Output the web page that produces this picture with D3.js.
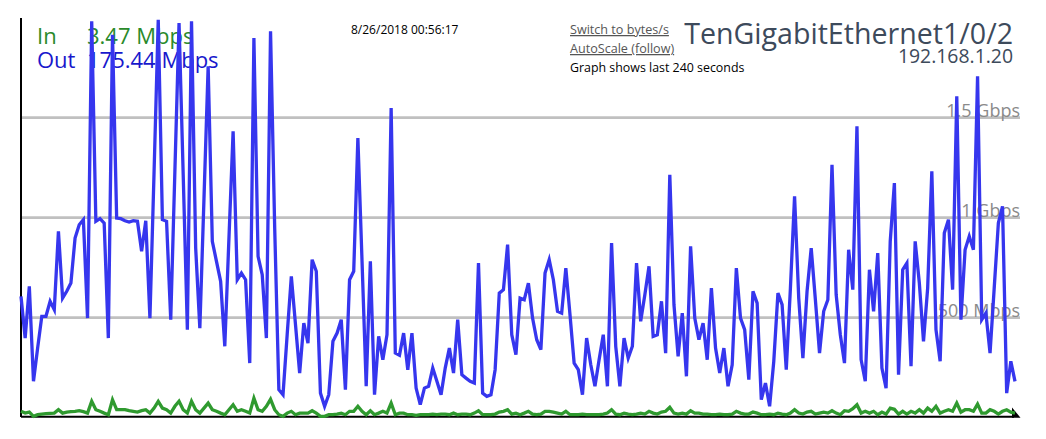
<!DOCTYPE html>
<html>
<head>
<meta charset="utf-8">
<script src="https://cdn.jsdelivr.net/npm/d3@7/dist/d3.min.js"></script>
<style>
  html, body { margin: 0; padding: 0; background: #fff; }
  svg { display: block; }
  text { font-family: "Open Sans", sans-serif; }
</style>
</head>
<body>
<svg id="chart" width="1046" height="439"></svg>
<script>
// ---- data (Mbps), one sample per second, last 240 seconds ----
const outMbps = [
  607,398,657,182,348,507,507,582,540,932,598,632,673,898,965,990,498,1982,982,995,
  973,398,1915,998,995,985,978,985,982,832,985,
  498,1232,1990,990,982,490,1232,1973,1215,440,1982,848,448,1098,1757,882,782,682,357,
  898,1432,690,723,690,273,1898,807,715,398,1932,
  948,140,115,415,707,465,223,473,373,790,732,123,57,115,382,423,490,140,690,732,
  1398,782,157,782,115,407,290,415,1548,323,
  312,423,240,423,148,65,148,157,248,182,115,248,348,223,490,215,198,182,173,773,
  123,107,115,240,623,640,865,415,315,598,
  590,673,498,390,340,723,790,690,532,523,748,515,273,240,115,398,265,157,290,415,
  157,873,357,157,398,298,357,773,482,615,
  757,407,415,582,323,1215,565,307,523,207,857,498,390,473,290,648,348,223,348,157,
  265,748,498,440,190,632,573,90,173,57,
  282,623,565,240,648,1107,598,298,632,848,590,323,532,590,1265,615,415,273,840,640,
  1457,290,182,740,532,823,248,148,882,1173,
  215,740,773,257,882,673,382,648,1232,440,282,923,990,640,1607,490,840,907,840,1707,
  490,523,323,648,973,1057,123,282,182
];
const inMbps = [
  32,23,28,7,15,18,20,22,23,40,23,28,30,32,35,30,23,82,40,32,
  23,15,90,40,40,40,35,32,28,35,40,
  23,48,82,48,40,23,57,82,40,23,82,40,23,48,73,40,32,23,15,40,
  65,32,40,32,23,98,40,32,57,92,
  40,15,7,23,32,15,23,23,23,35,23,7,7,15,15,18,23,15,32,32,
  57,32,15,35,15,23,32,23,73,15,
  23,23,15,15,12,15,15,15,18,15,18,18,15,23,15,18,18,15,23,35,
  15,15,15,18,28,32,40,18,23,15,
  23,32,18,15,18,32,32,28,23,18,32,15,15,15,18,15,15,15,15,18,
  23,40,18,15,23,18,15,18,23,18,
  32,23,18,28,32,52,23,18,23,18,35,23,23,18,18,15,15,18,15,15,
  18,32,23,18,18,28,23,15,15,18,
  15,23,18,15,23,40,23,18,28,32,18,23,28,23,35,23,15,35,32,45,
  65,23,32,23,32,15,28,18,48,42,
  18,32,18,32,23,40,23,48,32,57,23,32,40,32,73,28,40,40,32,68,
  23,23,40,32,18,32,40,28,23
];
const gridValues = [500, 1000, 1500];
const gridLabels = ["500 Mbps", "1 Gbps", "1.5 Gbps"];
const interfaceName = "TenGigabitEthernet1/0/2";
const hostAddress = "192.168.1.20";
const timestamp = "8/26/2018 00:56:17";
const currentIn = "3.47 Mbps";
const currentOut = "175.44 Mbps";

// ---- layout ----
const svg = d3.select("#chart");
const padLeft = 21, padRight = 1015, gridRight = 1020, padTop = 17.7, padBottom = 417.7;

const x = d3.scaleLinear().domain([0, outMbps.length - 1]).range([padLeft, padRight]);
const y = d3.scaleLinear().domain([0, 2000]).range([padBottom, padTop]);

// grid lines
svg.append("g").selectAll("line").data(gridValues).join("line")
  .attr("x1", padLeft).attr("x2", gridRight)
  .attr("y1", d => y(d)).attr("y2", d => y(d))
  .attr("stroke", "#c0c0c0").attr("stroke-width", 2.8);

// grid labels
svg.append("g").selectAll("text").data(gridValues).join("text")
  .attr("x", gridRight).attr("y", d => y(d) - 0.5)
  .attr("text-anchor", "end")
  .attr("font-size", 18)
  .attr("fill", "#8a8a8a")
  .text((d, i) => gridLabels[i]);

// header texts
svg.append("text").attr("x", 37).attr("y", 44).attr("font-size", 22)
  .attr("fill", "#2a8a2a").text("In");
svg.append("text").attr("x", 87).attr("y", 44).attr("font-size", 22)
  .attr("fill", "#2a8a2a").text(currentIn);
svg.append("text").attr("x", 37).attr("y", 68).attr("font-size", 22)
  .attr("fill", "#1818cc").text("Out");
svg.append("text").attr("x", 87).attr("y", 68).attr("font-size", 22)
  .attr("fill", "#1818cc").text(currentOut);

svg.append("text").attr("x", 351).attr("y", 34).attr("font-size", 12)
  .attr("fill", "#000").text(timestamp);

svg.append("text").attr("x", 570).attr("y", 34).attr("font-size", 12.6)
  .attr("fill", "#555").attr("text-decoration", "underline").text("Switch to bytes/s");
svg.append("text").attr("x", 570).attr("y", 53).attr("font-size", 12.6)
  .attr("fill", "#555").attr("text-decoration", "underline").text("AutoScale (follow)");
svg.append("text").attr("x", 570).attr("y", 72).attr("font-size", 12.4)
  .attr("fill", "#000").text("Graph shows last 240 seconds");

svg.append("text").attr("x", 1013).attr("y", 44).attr("font-size", 28.6)
  .attr("text-anchor", "end").attr("fill", "#3d4a5b").text(interfaceName);
svg.append("text").attr("x", 1013).attr("y", 63).attr("font-size", 19.4)
  .attr("text-anchor", "end").attr("fill", "#3d4a5b").text(hostAddress);

// axes
svg.append("line").attr("x1", padLeft).attr("x2", padLeft).attr("y1", 18).attr("y2", 417)
  .attr("stroke", "#000").attr("stroke-width", 2);
svg.append("line").attr("x1", padLeft).attr("x2", 1014).attr("y1", 416.7).attr("y2", 416.7)
  .attr("stroke", "#000").attr("stroke-width", 2);
svg.append("path").attr("d", "M1012,407.5 L1020.5,417.7 L1012,417.7 Z").attr("fill", "#000");

// series lines
const line = d3.line().x((d, i) => x(i)).y(d => y(d));
svg.append("path").datum(inMbps).attr("d", line)
  .attr("fill", "none").attr("stroke", "#2f9a2f").attr("stroke-width", 3.3)
  .attr("stroke-linejoin", "miter");
svg.append("path").datum(outMbps).attr("d", line)
  .attr("fill", "none").attr("stroke", "#3636ee").attr("stroke-width", 3.3)
  .attr("stroke-linejoin", "miter");
</script>
</body>
</html>
